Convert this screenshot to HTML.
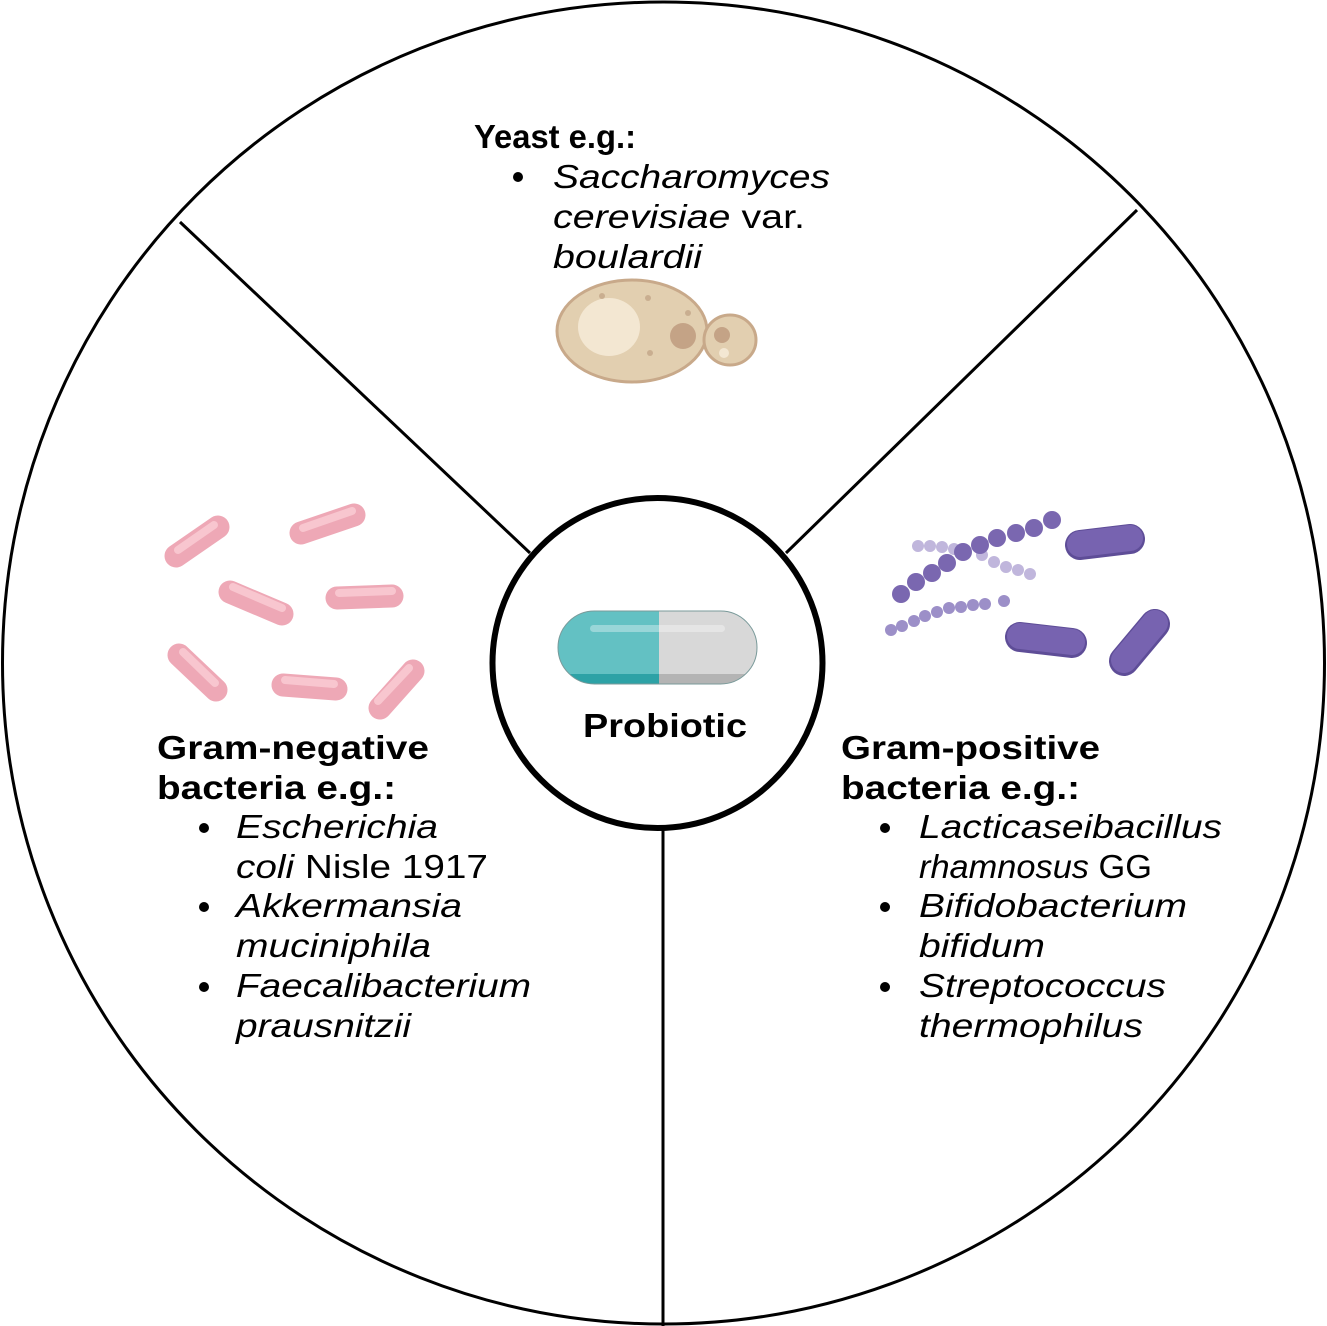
<!DOCTYPE html>
<html><head><meta charset="utf-8"><style>
html,body{margin:0;padding:0;background:#fff;}
svg{display:block;}
text{font-family:"Liberation Sans",Arial,sans-serif;font-size:33px;fill:#000;}
.b{font-weight:bold;}
.i{font-style:italic;}
</style></head><body>
<svg width="1327" height="1326" viewBox="0 0 1327 1326" xmlns="http://www.w3.org/2000/svg">
<circle cx="663.5" cy="663" r="661" fill="#fff" stroke="#000" stroke-width="3"/>
<line x1="180" y1="222" x2="530" y2="553" stroke="#000" stroke-width="3"/>
<line x1="1137" y1="210" x2="786" y2="553" stroke="#000" stroke-width="3"/>
<line x1="663" y1="830" x2="663" y2="1326" stroke="#000" stroke-width="3"/>
<circle cx="657.5" cy="663" r="165" fill="#fff" stroke="#000" stroke-width="6"/>
<defs><clipPath id="pc"><rect x="558" y="611" width="199" height="73" rx="36.5"/></clipPath></defs>
<g clip-path="url(#pc)">
<rect x="558" y="611" width="101" height="73" fill="#63c1c3"/>
<rect x="659" y="611" width="98" height="73" fill="#d8d8d8"/>
<rect x="558" y="674" width="101" height="10" fill="#2da2a6"/>
<rect x="659" y="674" width="98" height="10" fill="#b4b4b4"/>
</g>
<rect x="558" y="611" width="199" height="73" rx="36.5" fill="none" stroke="#7a9a9a" stroke-width="1"/>
<rect x="590" y="625" width="135" height="7" rx="3.5" fill="#fff" opacity="0.35"/>
<text x="583" y="737" class="b" textLength="164" lengthAdjust="spacingAndGlyphs">Probiotic</text>
<ellipse cx="632" cy="331" rx="75" ry="51" fill="#e2cfb0" stroke="#c8a98a" stroke-width="3"/>
<ellipse cx="730" cy="340" rx="26" ry="25" fill="#e2cfb0" stroke="#c8a98a" stroke-width="3"/>
<ellipse cx="609" cy="327" rx="31" ry="29" fill="#f3e7d2"/>
<circle cx="683" cy="336" r="13" fill="#c4a386"/>
<circle cx="722" cy="335" r="8" fill="#c4a386"/>
<circle cx="724" cy="353" r="5" fill="#f3e7d2"/>
<circle cx="602" cy="296" r="3" fill="#c9ae90"/><circle cx="648" cy="298" r="3" fill="#c9ae90"/><circle cx="688" cy="313" r="3" fill="#c9ae90"/><circle cx="650" cy="353" r="3" fill="#c9ae90"/>
<g stroke="#eea8b6" stroke-width="23" stroke-linecap="round">
<line x1="176" y1="556" x2="218" y2="527"/>
<line x1="301" y1="533" x2="354" y2="515"/>
<line x1="230" y1="592" x2="282" y2="614"/>
<line x1="337" y1="598" x2="392" y2="596"/>
<line x1="179" y1="655" x2="216" y2="690"/>
<line x1="283" y1="685" x2="336" y2="689"/>
<line x1="380" y1="708" x2="413" y2="671"/>
</g>
<g stroke="#f8c6cf" stroke-width="8" stroke-linecap="round">
<line x1="178" y1="550" x2="214" y2="525"/>
<line x1="303" y1="528" x2="352" y2="511"/>
<line x1="233" y1="587" x2="282" y2="608"/>
<line x1="339" y1="593" x2="392" y2="591"/>
<line x1="183" y1="652" x2="215" y2="683"/>
<line x1="285" y1="680" x2="334" y2="684"/>
<line x1="378" y1="701" x2="409" y2="668"/>
</g>
<g fill="#c0b6dc">
<circle cx="918" cy="546" r="6"/><circle cx="930" cy="546" r="6"/><circle cx="942" cy="547" r="6"/><circle cx="954" cy="549" r="6"/><circle cx="982" cy="555" r="6"/><circle cx="994" cy="562" r="6"/><circle cx="1006" cy="567" r="6"/><circle cx="1018" cy="570" r="6"/><circle cx="1030" cy="574" r="6"/>
</g>
<g fill="#9c8fc8">
<circle cx="891" cy="630" r="6"/><circle cx="902" cy="626" r="6"/><circle cx="914" cy="621" r="6"/><circle cx="925" cy="616" r="6"/><circle cx="937" cy="612" r="6"/><circle cx="949" cy="608" r="6"/><circle cx="961" cy="607" r="6"/><circle cx="973" cy="605" r="6"/><circle cx="985" cy="604" r="6"/><circle cx="1004" cy="601" r="6"/>
</g>
<g fill="#7a67b0">
<circle cx="901" cy="594" r="9"/><circle cx="916" cy="582" r="9"/><circle cx="932" cy="573" r="9"/><circle cx="947" cy="563" r="9"/><circle cx="963" cy="552" r="9"/><circle cx="980" cy="545" r="9"/><circle cx="997" cy="538" r="9"/><circle cx="1016" cy="533" r="9"/><circle cx="1034" cy="528" r="9"/><circle cx="1052" cy="520" r="9"/>
</g>
<g stroke="#5e4d97" stroke-width="30" stroke-linecap="round">
<line x1="1080" y1="545" x2="1130" y2="539"/>
<line x1="1020" y1="637" x2="1072" y2="643"/>
<line x1="1124" y1="661" x2="1155" y2="624"/>
</g>
<g stroke="#7763b0" stroke-width="26" stroke-linecap="round">
<line x1="1080" y1="544" x2="1130" y2="538"/>
<line x1="1020" y1="636" x2="1072" y2="642"/>
<line x1="1124" y1="660" x2="1155" y2="623"/>
</g>
<text x="474" y="148" class="b" textLength="162" lengthAdjust="spacingAndGlyphs">Yeast e.g.:</text>
<circle cx="518" cy="177" r="5"/>
<text x="553" y="188" class="i" textLength="277" lengthAdjust="spacingAndGlyphs">Saccharomyces</text>
<text x="553" y="228" textLength="252" lengthAdjust="spacingAndGlyphs"><tspan class="i">cerevisiae</tspan> var.</text>
<text x="553" y="268" class="i" textLength="149" lengthAdjust="spacingAndGlyphs">boulardii</text>

<text x="157" y="759" class="b" textLength="272" lengthAdjust="spacingAndGlyphs">Gram-negative</text>
<text x="157" y="799" class="b" textLength="239" lengthAdjust="spacingAndGlyphs">bacteria e.g.:</text>
<circle cx="204" cy="828" r="5"/><circle cx="204" cy="907" r="5"/><circle cx="204" cy="987" r="5"/>
<text x="236" y="838" class="i" textLength="202" lengthAdjust="spacingAndGlyphs">Escherichia</text>
<text x="236" y="878" textLength="252" lengthAdjust="spacingAndGlyphs"><tspan class="i">coli</tspan> Nisle 1917</text>
<text x="236" y="917" class="i" textLength="226" lengthAdjust="spacingAndGlyphs">Akkermansia</text>
<text x="236" y="957" class="i" textLength="195" lengthAdjust="spacingAndGlyphs">muciniphila</text>
<text x="236" y="997" class="i" textLength="295" lengthAdjust="spacingAndGlyphs">Faecalibacterium</text>
<text x="236" y="1037" class="i" textLength="175" lengthAdjust="spacingAndGlyphs">prausnitzii</text>

<text x="841" y="759" class="b" textLength="259" lengthAdjust="spacingAndGlyphs">Gram-positive</text>
<text x="841" y="799" class="b" textLength="239" lengthAdjust="spacingAndGlyphs">bacteria e.g.:</text>
<circle cx="885" cy="828" r="5"/><circle cx="885" cy="907" r="5"/><circle cx="885" cy="987" r="5"/>
<text x="919" y="838" class="i" textLength="303" lengthAdjust="spacingAndGlyphs">Lacticaseibacillus</text>
<text x="919" y="878" textLength="233" lengthAdjust="spacingAndGlyphs"><tspan class="i">rhamnosus</tspan> GG</text>
<text x="919" y="917" class="i" textLength="268" lengthAdjust="spacingAndGlyphs">Bifidobacterium</text>
<text x="919" y="957" class="i" textLength="126" lengthAdjust="spacingAndGlyphs">bifidum</text>
<text x="919" y="997" class="i" textLength="247" lengthAdjust="spacingAndGlyphs">Streptococcus</text>
<text x="919" y="1037" class="i" textLength="224" lengthAdjust="spacingAndGlyphs">thermophilus</text>
</svg>
</body></html>
